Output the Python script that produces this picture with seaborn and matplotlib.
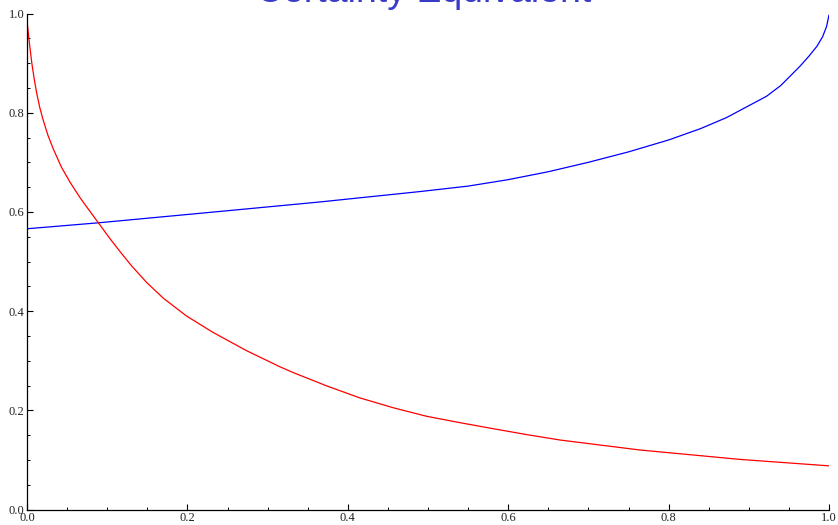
import matplotlib
matplotlib.use("Agg")
import matplotlib.pyplot as plt
import seaborn as sns
import pandas as pd
from matplotlib.ticker import MultipleLocator

# ---- data ----
red_x = [0.000, 0.003, 0.006, 0.009, 0.012, 0.016, 0.020, 0.026, 0.033, 0.043,
         0.054, 0.066, 0.074, 0.089, 0.103, 0.116, 0.130, 0.149, 0.170, 0.199,
         0.232, 0.274, 0.315, 0.332, 0.374, 0.415, 0.457, 0.498, 0.540, 0.581,
         0.623, 0.665, 0.764, 0.889, 1.000]
red_y = [0.985, 0.940, 0.900, 0.868, 0.840, 0.810, 0.786, 0.755, 0.726, 0.690,
         0.659, 0.629, 0.611, 0.578, 0.547, 0.520, 0.492, 0.458, 0.426, 0.390,
         0.357, 0.320, 0.288, 0.276, 0.249, 0.225, 0.205, 0.188, 0.175, 0.163,
         0.151, 0.140, 0.120, 0.101, 0.088]

blue_x = [0.000, 0.089, 0.241, 0.365, 0.490, 0.550, 0.600, 0.650, 0.700, 0.750,
          0.800, 0.840, 0.872, 0.922, 0.940, 0.964, 0.975, 0.985, 0.992, 0.997,
          1.000]
blue_y = [0.566, 0.578, 0.601, 0.620, 0.641, 0.652, 0.665, 0.681, 0.700, 0.721,
          0.745, 0.768, 0.790, 0.833, 0.855, 0.894, 0.914, 0.934, 0.953, 0.974,
          0.997]

title = "Certainty Equivalent"
tick_vals = [0.0, 0.2, 0.4, 0.6, 0.8, 1.0]
tick_labels = ["0.0", "0.2", "0.4", "0.6", "0.8", "1.0"]

# ---- plotting ----
sns.set_style("ticks")
plt.rcParams["font.family"] = ["Liberation Serif", "DejaVu Serif"]

W, H = 838, 525
fig = plt.figure(figsize=(W / 100, H / 100), dpi=100)
left, right, top, bottom = 27, 829, 13.5, 509.5
ax = fig.add_axes([left / W, (H - bottom) / H, (right - left) / W, (bottom - top) / H])

red_df = pd.DataFrame({"x": red_x, "y": red_y})
blue_df = pd.DataFrame({"x": blue_x, "y": blue_y})
sns.lineplot(data=blue_df, x="x", y="y", ax=ax, color="#0000ff", linewidth=0.9,
             estimator=None, sort=False)
sns.lineplot(data=red_df, x="x", y="y", ax=ax, color="#ff0000", linewidth=0.9,
             estimator=None, sort=False)

ax.set_xlim(0, 1)
ax.set_ylim(0, 1)
ax.set_xlabel("")
ax.set_ylabel("")
ax.set_xticks(tick_vals)
ax.set_xticklabels(tick_labels)
ax.set_yticks(tick_vals)
ax.set_yticklabels(tick_labels)
ax.xaxis.set_minor_locator(MultipleLocator(0.05))
ax.yaxis.set_minor_locator(MultipleLocator(0.05))
ax.tick_params(which="major", direction="in", length=4, width=0.8, color="black",
               labelsize=9, pad=2, labelcolor="#222222")
ax.tick_params(which="minor", direction="in", length=2.2, width=0.7, color="black")
for s in ["top", "right"]:
    ax.spines[s].set_visible(False)
for s in ["left", "bottom"]:
    ax.spines[s].set_linewidth(0.9)
    ax.spines[s].set_color("black")
    ax.spines[s].set_zorder(5)
ax.set_facecolor("white")
fig.patch.set_facecolor("white")

fig.text(424 / W, 1 - 2.5 / H, title, ha="center", va="baseline",
         fontsize=27, color="#3a3ac8", family=["Liberation Sans", "DejaVu Sans"])

fig.savefig("out.png", dpi=100, facecolor="white")
